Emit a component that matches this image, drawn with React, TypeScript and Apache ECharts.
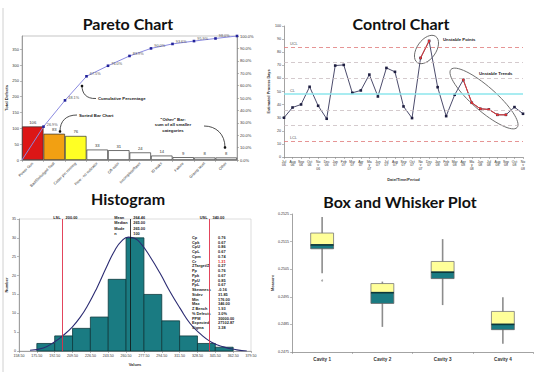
import React, { useEffect, useRef } from 'react';
import * as echarts from 'echarts';

// ---------- Pareto ----------
const paretoCategories = ['Power Gun', 'Bad/Dislodged Seal', 'Cotter pin missing', 'Flow - no indicator', 'Off-color', 'Incomplete/flaws', 'ID leaks', 'Failure', 'Gravity level', 'Other'];
const paretoCounts = [106, 83, 76, 33, 31, 24, 14, 9, 8, 8];
const paretoCumPct = [0, 26.9, 48.1, 67.5, 76.0, 83.9, 90.0, 93.6, 95.9, 98.0, 100.0];
const paretoBarColors = ['#dc1616', '#f2a012', '#ffff24', '#ffffff', '#ffffff', '#ffffff', '#ffffff', '#ffffff', '#ffffff', '#ffffff'];

// ---------- Control chart ----------
const controlMonths = ['Jul\n06', 'Aug\n06', 'Sep\n06', 'Oct\n06', 'No\nv\n06', 'Dec\n06', 'Jan\n07', 'Feb\n07', 'Mar\n07', 'Apr\n07', 'Ma\ny\n07', 'Jun\n07', 'Jul\n07', 'Aug\n07', 'Sep\n07', 'Oct\n07', 'No\nv\n07', 'Dec\n07', 'Jan\n08', 'Feb\n08', 'Mar\n08', 'Apr\n08', 'Ma\ny\n08', 'Jun\n08', 'Jul\n08', 'Aug\n08', 'Sep\n08', 'Oct\n08', 'No\nv\n08'];
const controlValues = [30.0, 37.8, 40.1, 53.6, 39.1, 29.2, 69.8, 70.3, 49.0, 50.8, 62.9, 46.2, 68.0, 65.0, 38.6, 29.7, 75.6, 88.6, 53.3, 31.2, 47.5, 58.9, 41.4, 36.8, 36.3, 32.2, 32.2, 38.1, 33.0];
const controlUnstableIdx = [16, 17, 21, 22, 23, 24, 25, 26];
const controlUCL = 84;
const controlCL = 48;
const controlLCL = 12;
const controlSigmaLines = [72, 60, 36, 24];

// ---------- Histogram ----------
const histBinEdges = [175.5, 192.5, 209.5, 226.5, 243.5, 260.5, 277.5, 294.5, 311.5, 328.5, 345.5, 362.5];
const histCounts = [2, 4, 6, 9, 19, 30, 15, 8, 4, 2, 1];
const histCurveX = [169.0, 181.7, 192.2, 200.8, 208.7, 216.7, 224.6, 232.5, 242.1, 250.0, 256.4, 262.7, 269.1, 275.4, 283.4, 292.9, 302.4, 312.0, 321.5, 331.0, 341.5, 353.3, 366.0, 375.5];
const histCurveY = [0.2, 0.8, 2.4, 4.2, 6.2, 8.9, 12.4, 16.6, 22.4, 26.8, 29.2, 30.2, 29.8, 28.2, 25.0, 20.6, 15.7, 11.3, 7.3, 4.6, 2.4, 1.1, 0.3, 0.0];
const histLSL = 200;
const histUSL = 340;
const histMean = 264.46;
const histCenterNames = ['Mean', 'Median', 'Mode', 'n'];
const histCenterValues = ['264.46', '265.00', '265.00', '100'];
const histStatNames = ['Cp', 'Cpk', 'CpU', 'CpL', 'Cpm', 'Cr', 'ZTarget/Z', 'Pp', 'Ppk', 'PpU', 'PpL', 'Skewness', 'Stdev', 'Min', 'Max', 'Z Bench', '% Defects', 'PPM', 'Expected', 'Sigma'];
const histStatValues = ['0.76', '0.67', '0.86', '0.67', '0.74', '1.31', '0.27', '0.76', '0.67', '0.85', '0.67', '-0.16', '31.85', '176.00', '346.00', '1.93', '3.0%', '30000.00', '27102.87', '3.38'];

// ---------- Box and whisker ----------
const boxCategories = ['Cavity 1', 'Cavity 2', 'Cavity 3', 'Cavity 4'];
const boxLow = [0.25035, 0.24841, 0.24920, 0.24780];
const boxQ1 = [0.25124, 0.24926, 0.25016, 0.24831];
const boxMedian = [0.25138, 0.24965, 0.25039, 0.24850];
const boxQ3 = [0.25181, 0.24998, 0.25078, 0.24897];
const boxHigh = [0.25239, 0.25005, 0.25159, 0.24948];
const boxOutliers = [['Cavity 1', 0.25009]];

const SMALL = 'Liberation Sans';
const TITLE = 'Lato';

function buildOption(): any {
  const axisGray = { lineStyle: { color: '#8c8c8c', width: 0.8 } };
  const tick = { show: true, length: 2, lineStyle: { color: '#8c8c8c', width: 0.6 } };
  const lbl = (extra: any = {}) => ({ fontSize: 4, color: '#333', fontFamily: SMALL, margin: 3, ...extra });

  return {
    animation: false,
    backgroundColor: '#ffffff',
    textStyle: { fontFamily: SMALL },
    grid: [
      { left: 22, top: 36, width: 215, height: 124, show: true, borderColor: '#a0a0a0', borderWidth: 0.6 },
      { left: 284, top: 26, width: 239, height: 131 },
      { left: 19, top: 219, width: 232, height: 132, show: true, borderColor: '#c8c8c8', borderWidth: 0.6 },
      { left: 292, top: 214, width: 241, height: 138 },
    ],
    xAxis: [
      {
        type: 'category', gridIndex: 0, data: paretoCategories,
        axisLine: axisGray, axisTick: tick,
        axisLabel: lbl({ rotate: 45, interval: 0, fontSize: 3.8 }),
      },
      { type: 'value', gridIndex: 0, min: 0, max: 10, show: false },
      {
        type: 'category', gridIndex: 1, data: controlMonths, boundaryGap: false,
        axisLine: axisGray, axisTick: { ...tick, interval: 0 },
        axisLabel: lbl({ interval: 0, fontSize: 3.4, lineHeight: 3.6 }),
        name: 'Date/Time/Period', nameLocation: 'middle', nameGap: 20,
        nameTextStyle: { fontSize: 4, fontWeight: 'bold', color: '#333', fontFamily: SMALL },
      },
      {
        type: 'value', gridIndex: 2, min: 158.5, max: 379.5, interval: 17,
        axisLine: axisGray, axisTick: tick, splitLine: { show: false },
        axisLabel: lbl({ fontSize: 3.6, formatter: (v: number) => v.toFixed(2) }),
        name: 'Values', nameLocation: 'middle', nameGap: 11,
        nameTextStyle: { fontSize: 4, fontWeight: 'bold', color: '#333', fontFamily: SMALL },
      },
      {
        type: 'category', gridIndex: 3, data: boxCategories,
        axisLine: axisGray, axisTick: tick,
        axisLabel: lbl({ fontSize: 4.6, fontWeight: 'bold', margin: 5 }),
      },
    ],
    yAxis: [
      {
        type: 'value', gridIndex: 0, min: 0, max: 392, interval: 50,
        axisLine: { show: true, ...axisGray }, axisTick: tick, splitLine: { show: false },
        axisLabel: lbl({ showMaxLabel: false }),
        name: 'Total Defects', nameLocation: 'middle', nameGap: 13, nameRotate: 90,
        nameTextStyle: { fontSize: 4.2, fontWeight: 'bold', color: '#333', fontFamily: SMALL },
      },
      {
        type: 'value', gridIndex: 0, position: 'right', min: 0, max: 100, interval: 10,
        axisLine: { show: true, ...axisGray }, axisTick: tick, splitLine: { show: false },
        axisLabel: lbl({ formatter: (v: number) => v.toFixed(1) + '%' }),
      },
      {
        type: 'value', gridIndex: 1, min: 0, max: 100, interval: 10,
        axisLine: { show: true, ...axisGray }, axisTick: tick, splitLine: { show: false },
        axisLabel: lbl({ fontSize: 3.6 }),
        name: 'Estimated Process Days', nameLocation: 'middle', nameGap: 11, nameRotate: 90,
        nameTextStyle: { fontSize: 3.8, fontWeight: 'bold', color: '#333', fontFamily: SMALL },
      },
      {
        type: 'value', gridIndex: 2, min: 0, max: 35, interval: 5,
        axisLine: { show: true, ...axisGray }, axisTick: tick, splitLine: { show: false },
        axisLabel: lbl({ fontSize: 3.6 }),
        name: 'Number', nameLocation: 'middle', nameGap: 11, nameRotate: 90,
        nameTextStyle: { fontSize: 4, fontWeight: 'bold', color: '#333', fontFamily: SMALL },
      },
      {
        type: 'value', gridIndex: 3, min: 0.2475, max: 0.2525, interval: 0.001,
        axisLine: { show: true, ...axisGray }, axisTick: tick, splitLine: { show: false },
        axisLabel: lbl({ fontSize: 3.6, formatter: (v: number) => v.toFixed(4) }),
        name: 'Measure', nameLocation: 'middle', nameGap: 18, nameRotate: 90,
        nameTextStyle: { fontSize: 4, fontWeight: 'bold', color: '#333', fontFamily: SMALL },
      },
    ],
    series: [
      // Pareto bars
      {
        type: 'bar', xAxisIndex: 0, yAxisIndex: 0, barCategoryGap: '0%',
        data: paretoCounts.map((v, i) => ({ value: v, itemStyle: { color: paretoBarColors[i] } })),
        itemStyle: { borderColor: '#333', borderWidth: 0.7 },
        label: { show: true, position: 'top', distance: 2, fontSize: 4.2, color: '#333', fontFamily: SMALL },
      },
      // Pareto cumulative line
      {
        type: 'line', xAxisIndex: 1, yAxisIndex: 1,
        data: paretoCumPct.map((v, i) => ({
          value: [i, v],
          symbolSize: i === 0 ? 0 : 2.6,
          label: { show: i > 0 && i < paretoCumPct.length - 1 },
        })),
        symbol: 'rect',
        lineStyle: { color: '#8a8ae0', width: 1 },
        itemStyle: { color: '#22229a' },
        label: {
          position: 'right', distance: 2, offset: [0, -2], fontSize: 3.8, color: '#555', fontFamily: SMALL,
          formatter: (p: any) => p.value[1].toFixed(1) + '%',
        },
      },
      // Control chart main line
      {
        type: 'line', xAxisIndex: 2, yAxisIndex: 2, data: controlValues,
        symbol: 'rect', symbolSize: 2.6,
        lineStyle: { color: '#4c4c6c', width: 1 },
        itemStyle: { color: '#1e1e40' },
        z: 3,
        markLine: {
          silent: true, symbol: ['none', 'none'],
          data: [
            ...controlSigmaLines.map((v) => ({
              yAxis: v, lineStyle: { color: '#c9bcc0', width: 0.8, type: [4, 3] }, label: { show: false },
            })),
            { yAxis: controlUCL, lineStyle: { color: '#e07a7a', width: 0.8, type: [4, 3] }, label: { show: true, position: 'insideStartTop', formatter: 'UCL', distance: [6, 1], fontSize: 3.8, color: '#555' } },
            { yAxis: controlUCL, lineStyle: { opacity: 0 }, label: { show: true, position: 'end', formatter: String(controlUCL), distance: 2, fontSize: 3.8, color: '#555' } },
            { yAxis: controlCL, lineStyle: { color: '#8de6ec', width: 1.6, type: 'solid' }, label: { show: true, position: 'insideStartTop', formatter: 'CL', distance: [6, 1], fontSize: 3.8, color: '#555' } },
            { yAxis: controlCL, lineStyle: { opacity: 0 }, label: { show: true, position: 'end', formatter: String(controlCL), distance: 2, fontSize: 3.8, color: '#555' } },
            { yAxis: controlLCL, lineStyle: { color: '#e07a7a', width: 0.8, type: [4, 3] }, label: { show: true, position: 'insideStartTop', formatter: 'LCL', distance: [6, 1], fontSize: 3.8, color: '#555' } },
            { yAxis: controlLCL, lineStyle: { opacity: 0 }, label: { show: true, position: 'end', formatter: String(controlLCL), distance: 2, fontSize: 3.8, color: '#555' } },
          ],
        },
      },
      // Control chart unstable segments
      {
        type: 'line', xAxisIndex: 2, yAxisIndex: 2,
        data: controlValues.map((v, i) => (controlUnstableIdx.includes(i) ? v : null)),
        connectNulls: false,
        symbol: 'circle', symbolSize: 2.4,
        lineStyle: { color: '#e23434', width: 1 },
        itemStyle: { color: '#e23434' },
        z: 4,
      },
      // Histogram bars
      {
        type: 'custom', xAxisIndex: 3, yAxisIndex: 3,
        data: histCounts.map((c, i) => [histBinEdges[i], histBinEdges[i + 1], c]),
        encode: { x: [0, 1], y: 2 },
        renderItem: (_params: any, api: any) => {
          const p0 = api.coord([api.value(0), api.value(2)]);
          const p1 = api.coord([api.value(1), 0]);
          return {
            type: 'rect',
            shape: { x: p0[0], y: p0[1], width: p1[0] - p0[0], height: p1[1] - p0[1] },
            style: { fill: '#1a7b82', stroke: '#0e3a3e', lineWidth: 0.8 },
          };
        },
      },
      // Histogram normal curve + spec lines
      {
        type: 'line', xAxisIndex: 3, yAxisIndex: 3,
        data: histCurveX.map((x, i) => [x, histCurveY[i]]),
        smooth: true, symbol: 'none',
        lineStyle: { color: '#2b2b72', width: 1.1 },
        z: 4,
        markLine: {
          silent: true, symbol: ['none', 'none'], label: { show: false },
          data: [
            { xAxis: histLSL, lineStyle: { color: '#e0304a', width: 0.9, type: 'solid' } },
            { xAxis: histUSL, lineStyle: { color: '#e0304a', width: 0.9, type: 'solid' } },
            { xAxis: histMean, lineStyle: { color: '#111', width: 0.8, type: 'solid' } },
          ],
        },
      },
      // Box and whisker
      {
        type: 'custom', xAxisIndex: 4, yAxisIndex: 4,
        data: boxCategories.map((_c, i) => [i, boxLow[i], boxQ1[i], boxMedian[i], boxQ3[i], boxHigh[i]]),
        encode: { x: 0, y: [1, 2, 3, 4, 5] },
        renderItem: (_params: any, api: any) => {
          const x = api.value(0);
          const low = api.coord([x, api.value(1)]);
          const q1 = api.coord([x, api.value(2)]);
          const med = api.coord([x, api.value(3)]);
          const q3 = api.coord([x, api.value(4)]);
          const high = api.coord([x, api.value(5)]);
          const bw = api.size([1, 0])[0] * 0.38;
          const cx = med[0];
          return {
            type: 'group',
            children: [
              { type: 'line', shape: { x1: cx, y1: low[1], x2: cx, y2: high[1] }, style: { stroke: '#8c8c8c', lineWidth: 1.6 } },
              { type: 'rect', shape: { x: cx - bw / 2, y: q3[1], width: bw, height: med[1] - q3[1] }, style: { fill: '#ffff99', stroke: '#777', lineWidth: 0.8 } },
              { type: 'rect', shape: { x: cx - bw / 2, y: med[1], width: bw, height: q1[1] - med[1] }, style: { fill: '#1a7b82', stroke: '#666', lineWidth: 0.8 } },
              { type: 'line', shape: { x1: cx - bw / 2, y1: med[1], x2: cx + bw / 2, y2: med[1] }, style: { stroke: '#0c383b', lineWidth: 1.6 } },
            ],
          };
        },
      },
      {
        type: 'scatter', xAxisIndex: 4, yAxisIndex: 4, data: boxOutliers,
        symbol: 'circle', symbolSize: 2, itemStyle: { color: '#999' },
      },
    ],
  };
}

function buildGraphics(chart: any): any[] {
  const g: any[] = [];
  const title = (text: string, x: number, y: number) => ({
    type: 'text', x, y, silent: true,
    style: { text, fontFamily: TITLE, fontWeight: 'bold', fontSize: 16, fill: '#111', align: 'center', verticalAlign: 'middle' },
  });
  const small = (text: string, x: number, y: number, extra: any = {}) => ({
    type: 'text', x, y, silent: true,
    style: { text, fontFamily: SMALL, fontSize: 4.2, fill: '#222', verticalAlign: 'middle', align: 'left', ...extra },
  });
  const arrow = (x1: number, y1: number, c1x: number, c1y: number, c2x: number, c2y: number, x2: number, y2: number) => [
    { type: 'bezierCurve', silent: true, shape: { x1, y1, cpx1: c1x, cpy1: c1y, cpx2: c2x, cpy2: c2y, x2, y2 }, style: { stroke: '#222', lineWidth: 0.8, fill: 'none' } },
    { type: 'circle', silent: true, shape: { cx: x2, cy: y2, r: 1.3 }, style: { fill: '#111' } },
  ];

  // edge line
  g.push({ type: 'line', silent: true, shape: { x1: 3, y1: 8, x2: 3, y2: 372 }, style: { stroke: '#d0d0d0', lineWidth: 1 } });

  // titles
  g.push(title('Pareto Chart', 128, 23.5));
  g.push(title('Control Chart', 401, 23.5));
  g.push(title('Histogram', 128, 198.5));
  g.push(title('Box and Whisker Plot', 400, 201));

  // Pareto annotations
  g.push(small('Cumulative Percentage', 98, 98.5, { fontWeight: 'bold', fontSize: 4.3 }));
  g.push(...arrow(96, 98.5, 86, 99, 82, 93, 82, 86));
  g.push(small('Sorted Bar Chart', 79, 115, { fontWeight: 'bold', fontSize: 4.3 }));
  g.push(...arrow(77, 115, 66, 115, 60, 121, 60, 131.5));
  g.push(small('"Other" Bar:', 173, 119, { fontWeight: 'bold', fontSize: 4.3, align: 'center' }));
  g.push(small('sum of all smaller', 173, 124.5, { fontWeight: 'bold', fontSize: 4.3, align: 'center' }));
  g.push(small('categories', 173, 130, { fontWeight: 'bold', fontSize: 4.3, align: 'center' }));
  g.push(...arrow(204, 126, 216, 126, 225, 134, 225, 147.5));

  // Control annotations
  g.push({ type: 'ellipse', silent: true, x: 426.5, y: 49.5, rotation: 0.96, shape: { cx: 0, cy: 0, rx: 16, ry: 9.5 }, style: { fill: 'none', stroke: '#6a6a6a', lineWidth: 0.9 } });
  g.push({ type: 'ellipse', silent: true, x: 484, y: 98.5, rotation: -0.72, shape: { cx: 0, cy: 0, rx: 44, ry: 12 }, style: { fill: 'none', stroke: '#6a6a6a', lineWidth: 0.9 } });
  g.push(small('Unstable Points', 443, 39, { fontWeight: 'bold', fontSize: 4.3 }));
  g.push(small('Unstable Trends', 479, 73, { fontWeight: 'bold', fontSize: 4.3 }));

  // Histogram annotations
  const lslX = chart.convertToPixel({ xAxisIndex: 3 }, histLSL);
  const uslX = chart.convertToPixel({ xAxisIndex: 3 }, histUSL);
  const meanX = chart.convertToPixel({ xAxisIndex: 3 }, histMean);
  const topY = chart.convertToPixel({ yAxisIndex: 3 }, 35);
  const fs = 3.9;
  g.push(small('LSL', lslX - 2, topY - 2, { align: 'right', fontSize: fs, fontWeight: 'bold' }));
  g.push(small(histLSL.toFixed(2), lslX + 3, topY - 2, { fontSize: fs, fontWeight: 'bold' }));
  g.push(small('USL', uslX - 2, topY - 2, { align: 'right', fontSize: fs, fontWeight: 'bold' }));
  g.push(small(histUSL.toFixed(2), uslX + 3, topY - 2, { fontSize: fs, fontWeight: 'bold' }));
  histCenterNames.forEach((n, i) => {
    g.push(small(n, meanX - 16, topY - 2 + i * 5.6, { fontSize: fs, fontWeight: 'bold' }));
    g.push(small(histCenterValues[i], meanX + 3, topY - 2 + i * 5.6, { fontSize: fs, fontWeight: 'bold' }));
  });
  histStatNames.forEach((n, i) => {
    const y = 237.3 + i * 4.76;
    g.push(small(n, 192, y, { fontSize: fs, fontWeight: 'bold' }));
    g.push(small(histStatValues[i], 218, y, { fontSize: fs, fontWeight: 'bold', fill: n === 'Cr' ? '#e02020' : '#222' }));
  });

  return g;
}

export default function App() {
  const ref = useRef<HTMLDivElement>(null);
  useEffect(() => {
    if (!ref.current) return;
    const chart = echarts.init(ref.current, null, { renderer: 'svg' });
    chart.setOption(buildOption());
    chart.setOption({ graphic: buildGraphics(chart) });
    return () => chart.dispose();
  }, []);
  return (
    <div
      ref={ref}
      style={{ position: 'absolute', left: 0, top: 0, width: 540, height: 380, background: '#ffffff' }}
    />
  );
}
